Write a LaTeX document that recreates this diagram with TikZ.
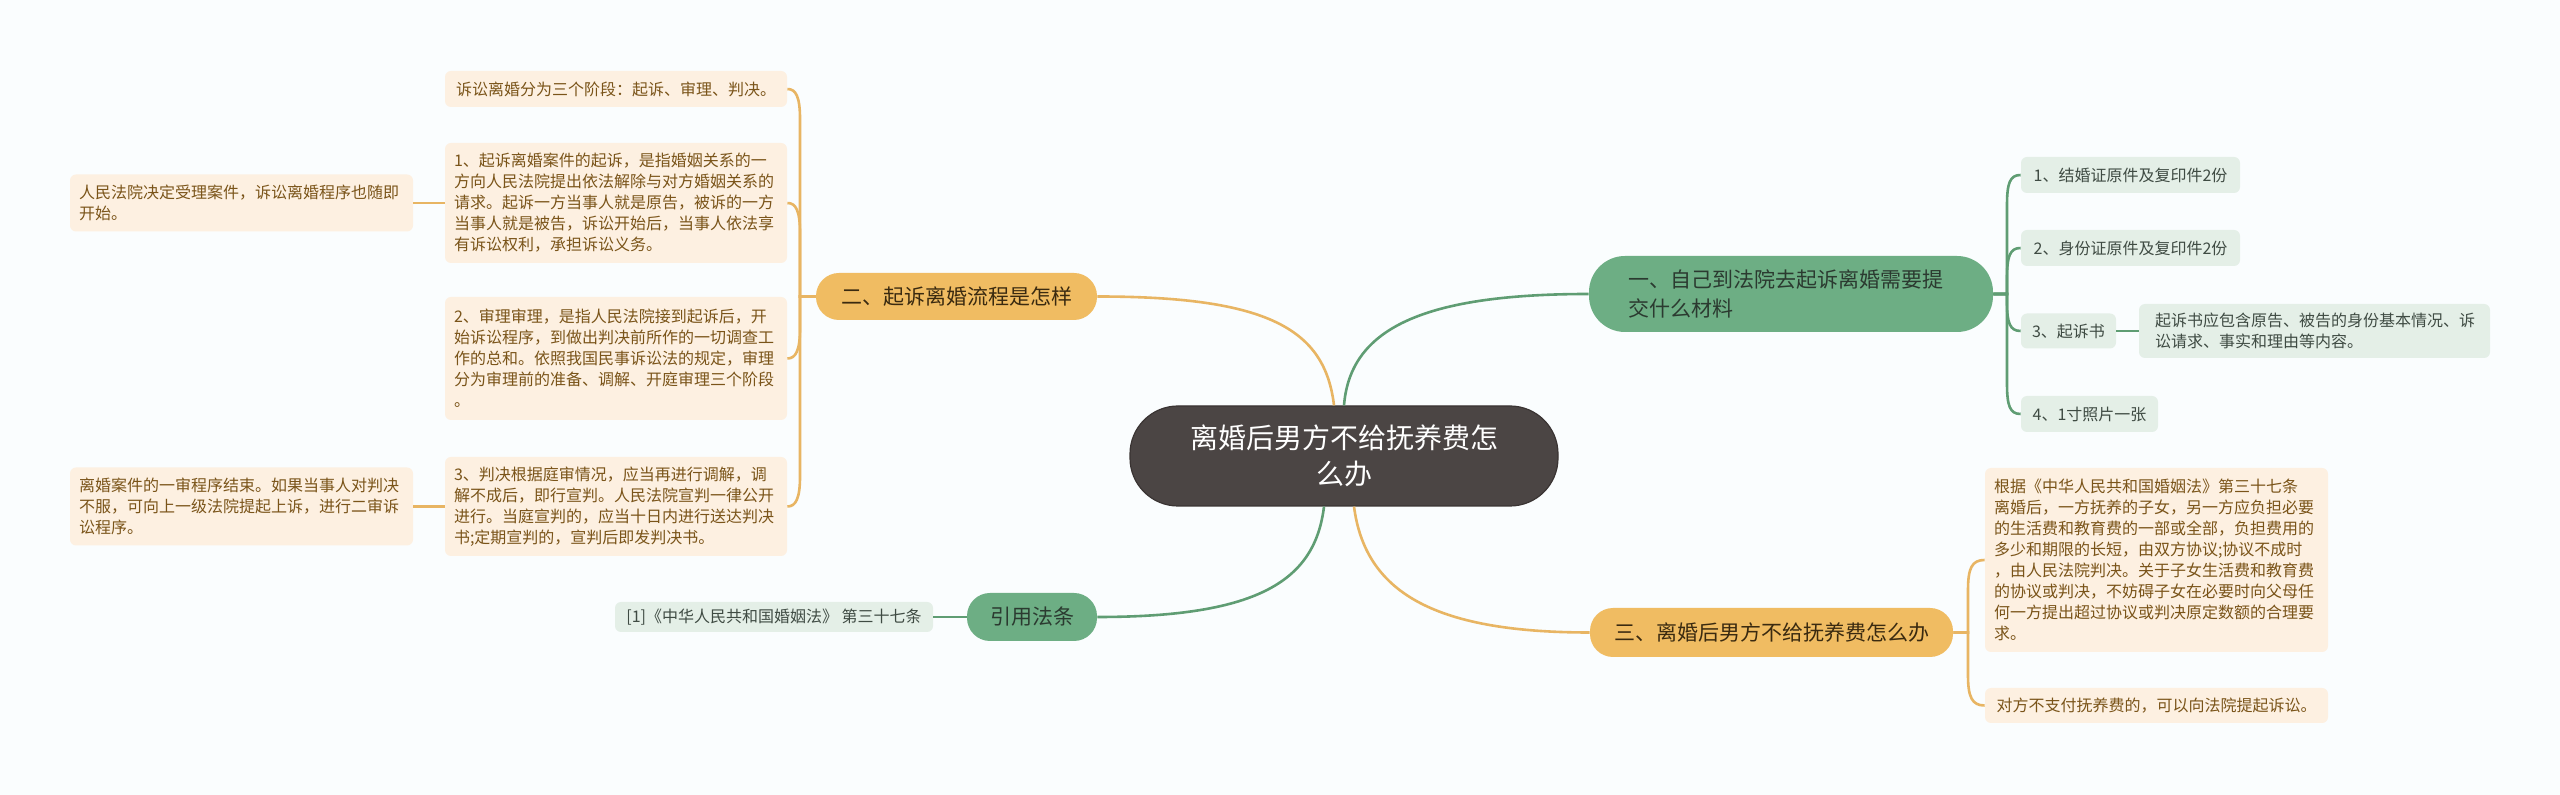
\documentclass[tikz,border=0pt]{standalone}
\usepackage{fontspec}
\setmainfont{Noto Sans CJK SC}
\definecolor{bgc}{HTML}{FAFDFE}
\definecolor{rootfill}{HTML}{4B4544}
\definecolor{rootdraw}{HTML}{3A3433}
\definecolor{gbr}{HTML}{6DAE84}
\definecolor{gbrtext}{HTML}{2B3A30}
\definecolor{obr}{HTML}{F0BC62}
\definecolor{obrtext}{HTML}{3A2A10}
\definecolor{olf}{HTML}{FDF0E1}
\definecolor{olftext}{HTML}{7A5419}
\definecolor{glf}{HTML}{E4EFE7}
\definecolor{glftext}{HTML}{3F4B43}
\definecolor{oline}{HTML}{E8B563}
\definecolor{gline}{HTML}{5F9D73}
\begin{document}
\begin{tikzpicture}[x=0.5pt,y=-0.5pt,
  rootnode/.style={fill=rootfill, draw=rootdraw, line width=0.6pt, rounded corners=24pt, text=white,
    font=\fontsize{14}{18}\selectfont, align=center, inner sep=0pt, minimum width=214pt, minimum height=50pt},
  gbranch/.style={fill=gbr, rounded corners=18pt, text=gbrtext, font=\fontsize{10.5}{14.5}\selectfont, inner ysep=0pt},
  obranch/.style={fill=obr, rounded corners=11.5pt, text=obrtext, font=\fontsize{10.5}{14.5}\selectfont, inner sep=0pt},
  gbranchb/.style={fill=gbr, rounded corners=11.5pt, text=gbrtext, font=\fontsize{10.5}{14.5}\selectfont, inner sep=0pt},
  oleaf/.style={fill=olf, rounded corners=3pt, text=olftext, font=\fontsize{8}{10.5}\selectfont, inner xsep=4.5pt, inner ysep=0pt, align=left},
  gleaf/.style={fill=glf, rounded corners=3pt, text=glftext, font=\fontsize{8}{10.5}\selectfont, inner xsep=4.5pt, inner ysep=0pt, align=left},
  lo/.style={draw=oline, line width=1.3pt},
  lg/.style={draw=gline, line width=1.3pt}]
\fill[bgc] (0,0) rectangle (2560,795);
\useasboundingbox (0,0) rectangle (2560,795);

% root and branches
\node[rootnode] (root) at (1344,456) {离婚后男方不给抚养费怎\\么办};
\node[gbranch, text width=163pt, inner xsep=19.5pt, minimum height=38pt, align=left] (b1) at (1791,294) {一、自己到法院去起诉离婚需要提\\交什么材料};
\node[obranch, minimum width=140.5pt, minimum height=23.5pt] (b2) at (956.5,296.5) {二、起诉离婚流程是怎样};
\node[obranch, minimum width=181.5pt, minimum height=24.5pt] (b3) at (1771.5,632.5) {三、离婚后男方不给抚养费怎么办};
\node[gbranchb, minimum width=65pt, minimum height=24pt] (b4) at (1032,617) {引用法条};

% left orange leaves
\node[oleaf, minimum width=171pt, minimum height=18pt, align=center] (l1) at (616,89) {诉讼离婚分为三个阶段：起诉、审理、判决。};
\node[oleaf, text width=162pt, minimum height=60pt] (l2) at (616,203) {1、起诉离婚案件的起诉，是指婚姻关系的一\\方向人民法院提出依法解除与对方婚姻关系的\\请求。起诉一方当事人就是原告，被诉的一方\\当事人就是被告，诉讼开始后，当事人依法享\\有诉讼权利，承担诉讼义务。};
\node[oleaf, text width=162pt, minimum height=61.5pt] (l3) at (616,358.5) {2、审理审理，是指人民法院接到起诉后，开\\始诉讼程序，到做出判决前所作的一切调查工\\作的总和。依照我国民事诉讼法的规定，审理\\分为审理前的准备、调解、开庭审理三个阶段\\。};
\node[oleaf, text width=162pt, minimum height=49.5pt] (l4) at (616,506.5) {3、判决根据庭审情况，应当再进行调解，调\\解不成后，即行宣判。人民法院宣判一律公开\\进行。当庭宣判的，应当十日内进行送达判决\\书;定期宣判的，宣判后即发判决书。};
\node[oleaf, text width=162.5pt, minimum height=28.5pt] (ll1) at (241.5,203) {人民法院决定受理案件，诉讼离婚程序也随即\\开始。};
\node[oleaf, text width=162.5pt, minimum height=39pt] (ll2) at (241.5,506.5) {离婚案件的一审程序结束。如果当事人对判决\\不服，可向上一级法院提起上诉，进行二审诉\\讼程序。};

% citation leaf
\node[gleaf, minimum width=159pt, minimum height=15pt, align=center] (cite) at (774,617) {[1]《中华人民共和国婚姻法》 第三十七条};

% right green leaves
\node[gleaf, minimum width=109.5pt, minimum height=18pt, align=center] (r1) at (2130.5,175) {1、结婚证原件及复印件2份};
\node[gleaf, minimum width=109.5pt, minimum height=18pt, align=center] (r2) at (2130.5,248) {2、身份证原件及复印件2份};
\node[gleaf, minimum width=47.5pt, minimum height=17.5pt, align=center] (r3) at (2068.5,331) {3、起诉书};
\node[gleaf, text width=159.5pt, inner xsep=8pt, minimum height=27pt] (r3a) at (2314.5,331) {起诉书应包含原告、被告的身份基本情况、诉\\讼请求、事实和理由等内容。};
\node[gleaf, minimum width=68.5pt, minimum height=18pt, align=center] (r4) at (2089.5,414) {4、1寸照片一张};

% right orange leaves
\node[oleaf, text width=162.5pt, minimum height=92pt] (ro1) at (2156.5,560) {根据《中华人民共和国婚姻法》第三十七条\\离婚后，一方抚养的子女，另一方应负担必要\\的生活费和教育费的一部或全部，负担费用的\\多少和期限的长短，由双方协议;协议不成时\\，由人民法院判决。关于子女生活费和教育费\\的协议或判决，不妨碍子女在必要时向父母任\\何一方提出超过协议或判决原定数额的合理要\\求。};
\node[oleaf, minimum width=171.5pt, minimum height=17.5pt, align=center] (ro2) at (2156.5,705.5) {对方不支付抚养费的，可以向法院提起诉讼。};

% root connectors
\draw[lg] (root.north) .. controls (1350,330) and (1420,294) .. (b1.west);
\draw[lo] ([xshift=-5pt]root.north) .. controls (1325,330) and (1270,296.5) .. (b2.east);
\draw[lo] ([xshift=5pt]root.south) .. controls (1365,590) and (1430,632.5) .. (b3.west);
\draw[lg] ([xshift=-10pt]root.south) .. controls (1315,580) and (1260,617) .. (b4.east);

% branch 2 bracket
\draw[lo] (b2.west) -| (800,119) .. controls (800,97) and (796,89) .. (l1.east);
\draw[lo] (b2.west) -| (800,233) .. controls (800,211) and (796,203) .. (l2.east);
\draw[lo] (b2.west) -| (800,328.5) .. controls (800,350) and (796,358.5) .. (l3.east);
\draw[lo] (b2.west) -| (800,476.5) .. controls (800,498) and (796,506.5) .. (l4.east);
\draw[lo] (l2.west) -- (ll1.east);
\draw[lo] (l4.west) -- (ll2.east);

% branch 4
\draw[lg] (b4.west) -- (cite.east);

% branch 1 bracket
\draw[lg] (b1.east) -| (2007,205) .. controls (2007,183) and (2010,175) .. (r1.west);
\draw[lg] (b1.east) -| (2007,278) .. controls (2007,256) and (2010,248) .. (r2.west);
\draw[lg] (b1.east) -| (2007,303) .. controls (2007,323) and (2010,331) .. (r3.west);
\draw[lg] (b1.east) -| (2007,384) .. controls (2007,406) and (2010,414) .. (r4.west);
\draw[lg] (r3.east) -- (r3a.west);

% branch 3 bracket
\draw[lo] (b3.east) -| (1968,590) .. controls (1968,568) and (1972,560) .. (ro1.west);
\draw[lo] (b3.east) -| (1968,675.5) .. controls (1968,697) and (1972,705.5) .. (ro2.west);
\end{tikzpicture}
\end{document}
